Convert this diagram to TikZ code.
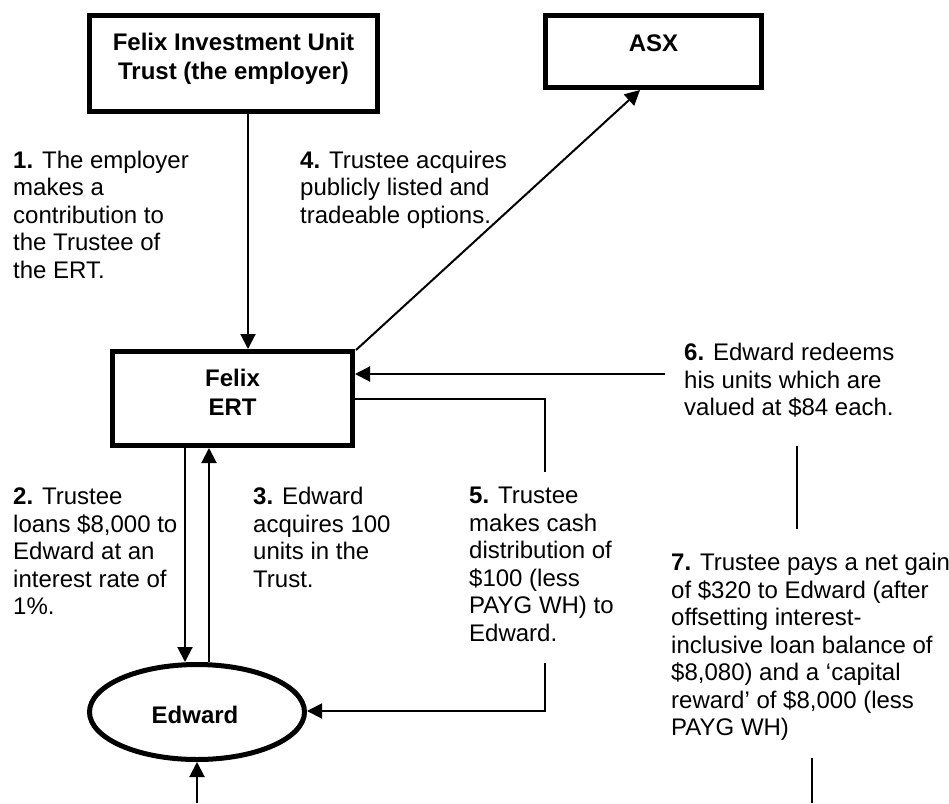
\documentclass[tikz,border=0pt]{standalone}
\usepackage{fontspec}
\setmainfont{Liberation Sans}
\usetikzlibrary{arrows.meta,shapes.geometric}
\newcommand\fl{\rule{0pt}{19pt}}
\tikzset{
  thickbox/.style={draw, line width=5pt, rectangle, inner sep=0pt},
  thickell/.style={draw, line width=5pt, ellipse, inner sep=0pt},
  boxtxt/.style={inner sep=0pt, anchor=north, align=center, font=\fontsize{24}{29}\selectfont\bfseries},
  note/.style={inner sep=0pt, anchor=north west, align=left, font=\fontsize{24}{27.5}\selectfont},
  conn/.style={line width=2pt},
  arr/.style={conn, -{Triangle[length=15pt,width=15pt]}},
}
\begin{document}
\begin{tikzpicture}[x=1pt,y=-1pt]
\useasboundingbox (0,0) rectangle (949,803);
% boxes
\node[thickbox, minimum width=288pt, minimum height=96pt] (emp) at (233.5,63.5) {};
\node[thickbox, minimum width=216pt, minimum height=72pt] (asx) at (653.5,51.5) {};
\node[thickbox, minimum width=240pt, minimum height=94pt] (ert) at (232.5,398.5) {};
\node[thickell, minimum width=215pt, minimum height=95pt] (edw) at (197,712) {};
% box texts
\node[boxtxt] (empt) at (233.5,31) {\fl Felix Investment Unit\\Trust (the employer)};
\node[boxtxt] (asxt) at (653.5,32) {\fl ASX};
\node[boxtxt] (ertt) at (232.5,367.5) {\fl Felix\\ERT};
\node[boxtxt] (edwt) at (195,704.5) {\fl Edward};
% notes
\node[note] (n1) at (13,149) {\fl\textbf{1.} The employer\\makes a\\contribution to\\the Trustee of\\the ERT.};
\node[note] (n4) at (300,149) {\fl\textbf{4.} Trustee acquires\\publicly listed and\\tradeable options.};
\node[note] (n2) at (13,485.5) {\fl\textbf{2.} Trustee\\loans \$8,000 to\\Edward at an\\interest rate of\\1\%.};
\node[note] (n3) at (253,485.5) {\fl\textbf{3.} Edward\\acquires 100\\units in the\\Trust.};
\node[note] (n5) at (469,484.5) {\fl\textbf{5.} Trustee\\makes cash\\distribution of\\\$100 (less\\PAYG WH) to\\Edward.};
\node[note] (n6) at (684,341.5) {\fl\textbf{6.} Edward redeems\\his units which are\\valued at \$84 each.};
\node[note] (n7) at (671,551.5) {\fl\textbf{7.} Trustee pays a net gain\\of \$320 to Edward (after\\offsetting interest-\\inclusive loan balance of\\\$8,080) and a ‘capital\\reward’ of \$8,000 (less\\PAYG WH)};
% helper coordinates
\coordinate (c1) at (248,0);
\coordinate (c4a) at (356,350);
\coordinate (c4b) at (640,0);
\coordinate (c6) at (665,374);
\coordinate (c5y) at (0,399);
\coordinate (c5a) at (545,399);
\coordinate (c5b) at (545,472);
\coordinate (c5c) at (545,663);
\coordinate (c5d) at (545,711);
\coordinate (c2) at (185,0);
\coordinate (c3) at (209,0);
\coordinate (cb) at (197,803);
\coordinate (c67a) at (797,446);
\coordinate (c67b) at (797,529);
\coordinate (c7a) at (812,758);
\coordinate (c7b) at (812,803);
% connectors
\draw[arr] (emp.south -| c1) -- (ert.north -| c1);
\draw[arr] (c4a) -- (asx.south -| c4b);
\draw[arr] (c6) -- (ert.east |- c6);
\draw[conn] (ert.east |- c5y) -- (c5a) -- (c5b);
\draw[arr] (c5c) -- (c5d) -- (edw.east |- c5d);
\draw[arr] (ert.south -| c2) -- (edw.north -| c2);
\draw[arr] (edw.north -| c3) -- (ert.south -| c3);
\draw[arr] (cb) -- (edw.south);
\draw[conn] (c67a) -- (c67b);
\draw[conn] (c7a) -- (c7b);
\end{tikzpicture}
\end{document}
